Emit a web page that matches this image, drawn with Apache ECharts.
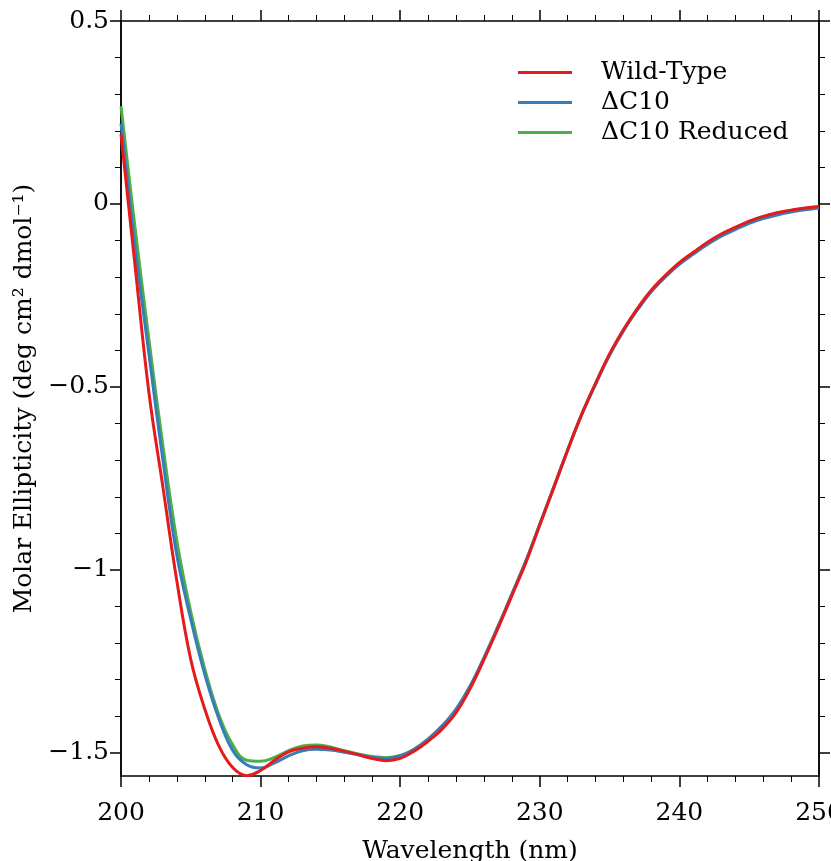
<!DOCTYPE html>
<html>
<head>
<meta charset="utf-8">
<script src="https://cdn.jsdelivr.net/npm/echarts@6/dist/echarts.min.js"></script>
<style>
    html, body { margin: 0; padding: 0; background: #ffffff; }
    #chart { width: 831px; height: 861px; }
</style>
</head>
<body>
<div id="chart"></div>
<script>
const FONT = "DejaVu Serif";
const FONT_SIZE = 25;

const wavelengths = [
    200, 201, 202, 203, 204, 205, 206, 207, 208, 209,
    210, 211, 212, 213, 214, 215, 216, 217, 218, 219,
    220, 221, 222, 223, 224, 225, 226, 227, 228, 229,
    230, 231, 232, 233, 234, 235, 236, 237, 238, 239,
    240, 241, 242, 243, 244, 245, 246, 247, 248, 249, 250,
];

const wildType = [
    0.19, -0.166, -0.515, -0.773, -1.03, -1.245, -1.38, -1.48, -1.54, -1.562,
    -1.548, -1.52, -1.497, -1.487, -1.483, -1.487, -1.495, -1.505, -1.515, -1.521,
    -1.515, -1.495, -1.468, -1.435, -1.39, -1.325, -1.245, -1.16, -1.07, -0.98,
    -0.877, -0.775, -0.672, -0.575, -0.49, -0.41, -0.343, -0.285, -0.235, -0.195,
    -0.16, -0.132, -0.105, -0.082, -0.064, -0.047, -0.034, -0.024, -0.017, -0.011, -0.007,
];

const deltaC10 = [
    0.22, -0.116, -0.41, -0.7, -0.96, -1.135, -1.285, -1.405, -1.493, -1.532,
    -1.541, -1.527, -1.508, -1.494, -1.49, -1.492, -1.498, -1.505, -1.512, -1.515,
    -1.508, -1.49, -1.462, -1.426, -1.38, -1.318, -1.24, -1.155, -1.066, -0.976,
    -0.875, -0.774, -0.672, -0.576, -0.492, -0.413, -0.346, -0.289, -0.239, -0.199,
    -0.165, -0.137, -0.111, -0.088, -0.07, -0.053, -0.04, -0.03, -0.022, -0.016, -0.011,
];

const deltaC10Reduced = [
    0.267, -0.063, -0.37, -0.66, -0.92, -1.115, -1.27, -1.395, -1.478, -1.52,
    -1.523, -1.512, -1.494, -1.481, -1.478, -1.484, -1.494, -1.503, -1.51, -1.513,
    -1.507, -1.49, -1.462, -1.427, -1.382, -1.318, -1.24, -1.155, -1.066, -0.976,
    -0.875, -0.774, -0.672, -0.575, -0.49, -0.411, -0.344, -0.286, -0.236, -0.196,
    -0.161, -0.133, -0.106, -0.083, -0.065, -0.048, -0.035, -0.025, -0.018, -0.012, -0.008,
];

const seriesNames = ["Wild-Type", "ΔC10", "ΔC10 Reduced"];
const seriesColors = ["#e41a1c", "#377eb8", "#4daf4a"];

const yMajorTicks = [-1.5, -1, -0.5, 0, 0.5];
const yMinorTicks = [
    -1.4, -1.3, -1.2, -1.1, -0.9, -0.8, -0.7, -0.6,
    -0.4, -0.3, -0.2, -0.1, 0.1, 0.2, 0.3, 0.4,
];

const Y_MIN = -1.563;
const Y_MAX = 0.5;

function pairs(values) {
    return wavelengths.map((w, i) => [w, values[i]]);
}

function formatY(value) {
    if (value === 0) return "0";
    return String(value).replace("-", "\u2212");
}

function xAxis(position, showLabels) {
    return {
        type: "value",
        position,
        min: 200,
        max: 250,
        interval: 10,
        name: showLabels ? "Wavelength (nm)" : "",
        nameLocation: "middle",
        nameGap: 63,
        nameTextStyle: { fontFamily: FONT, fontSize: FONT_SIZE, color: "#000" },
        axisLine: { show: true, onZero: false, lineStyle: { color: "#000", width: 1.5 } },
        axisTick: { show: true, inside: false, length: 11, lineStyle: { color: "#000", width: 1.5 } },
        minorTick: { show: true, splitNumber: 5, length: 6, lineStyle: { color: "#000", width: 1 } },
        axisLabel: {
            show: showLabels,
            margin: 25,
            fontFamily: FONT,
            fontSize: FONT_SIZE,
            color: "#000",
            showMinLabel: true,
            showMaxLabel: true,
        },
        splitLine: { show: false },
        minorSplitLine: { show: false },
    };
}

function yAxis(position, major, showLabels) {
    const ticks = major ? yMajorTicks : yMinorTicks;
    return {
        type: "value",
        position,
        min: Y_MIN,
        max: Y_MAX,
        name: showLabels ? "Molar Ellipticity (deg cm\u00b2 dmol\u207b\u00b9)" : "",
        nameLocation: "middle",
        nameGap: 82,
        nameTextStyle: { fontFamily: FONT, fontSize: FONT_SIZE, color: "#000" },
        axisLine: { show: true, onZero: false, lineStyle: { color: "#000", width: 1.5 } },
        axisTick: {
            show: true,
            inside: false,
            length: major ? 11 : 6,
            customValues: ticks,
            lineStyle: { color: "#000", width: major ? 1.5 : 1 },
        },
        axisLabel: {
            show: showLabels,
            customValues: ticks,
            margin: 12,
            fontFamily: FONT,
            fontSize: FONT_SIZE,
            color: "#000",
            formatter: formatY,
        },
        splitLine: { show: false },
    };
}

const chart = echarts.init(document.getElementById("chart"));

chart.setOption({
    backgroundColor: "#ffffff",
    animation: false,
    grid: {
        left: 121,
        right: 12,
        top: 21,
        bottom: 85,
        containLabel: false,
        outerBoundsMode: "none",
    },
    legend: {
        data: seriesNames,
        orient: "vertical",
        left: 513,
        top: 55,
        align: "left",
        icon: "rect",
        itemWidth: 54,
        itemHeight: 3,
        itemGap: 5,
        selectedMode: false,
        textStyle: {
            fontFamily: FONT,
            fontSize: FONT_SIZE,
            color: "#000",
            lineHeight: 25,
            padding: [0, 0, 0, 24],
        },
    },
    xAxis: [xAxis("bottom", true), xAxis("top", false)],
    yAxis: [
        yAxis("left", true, true),
        yAxis("left", false, false),
        yAxis("right", true, false),
        yAxis("right", false, false),
    ],
    series: [wildType, deltaC10, deltaC10Reduced].map((values, i) => ({
        name: seriesNames[i],
        type: "line",
        xAxisIndex: 0,
        yAxisIndex: 0,
        data: pairs(values),
        showSymbol: false,
        symbol: "none",
        smooth: 0.4,
        z: 4 - i,
        lineStyle: { color: seriesColors[i], width: 3 },
        itemStyle: { color: seriesColors[i] },
    })),
});
</script>
</body>
</html>
